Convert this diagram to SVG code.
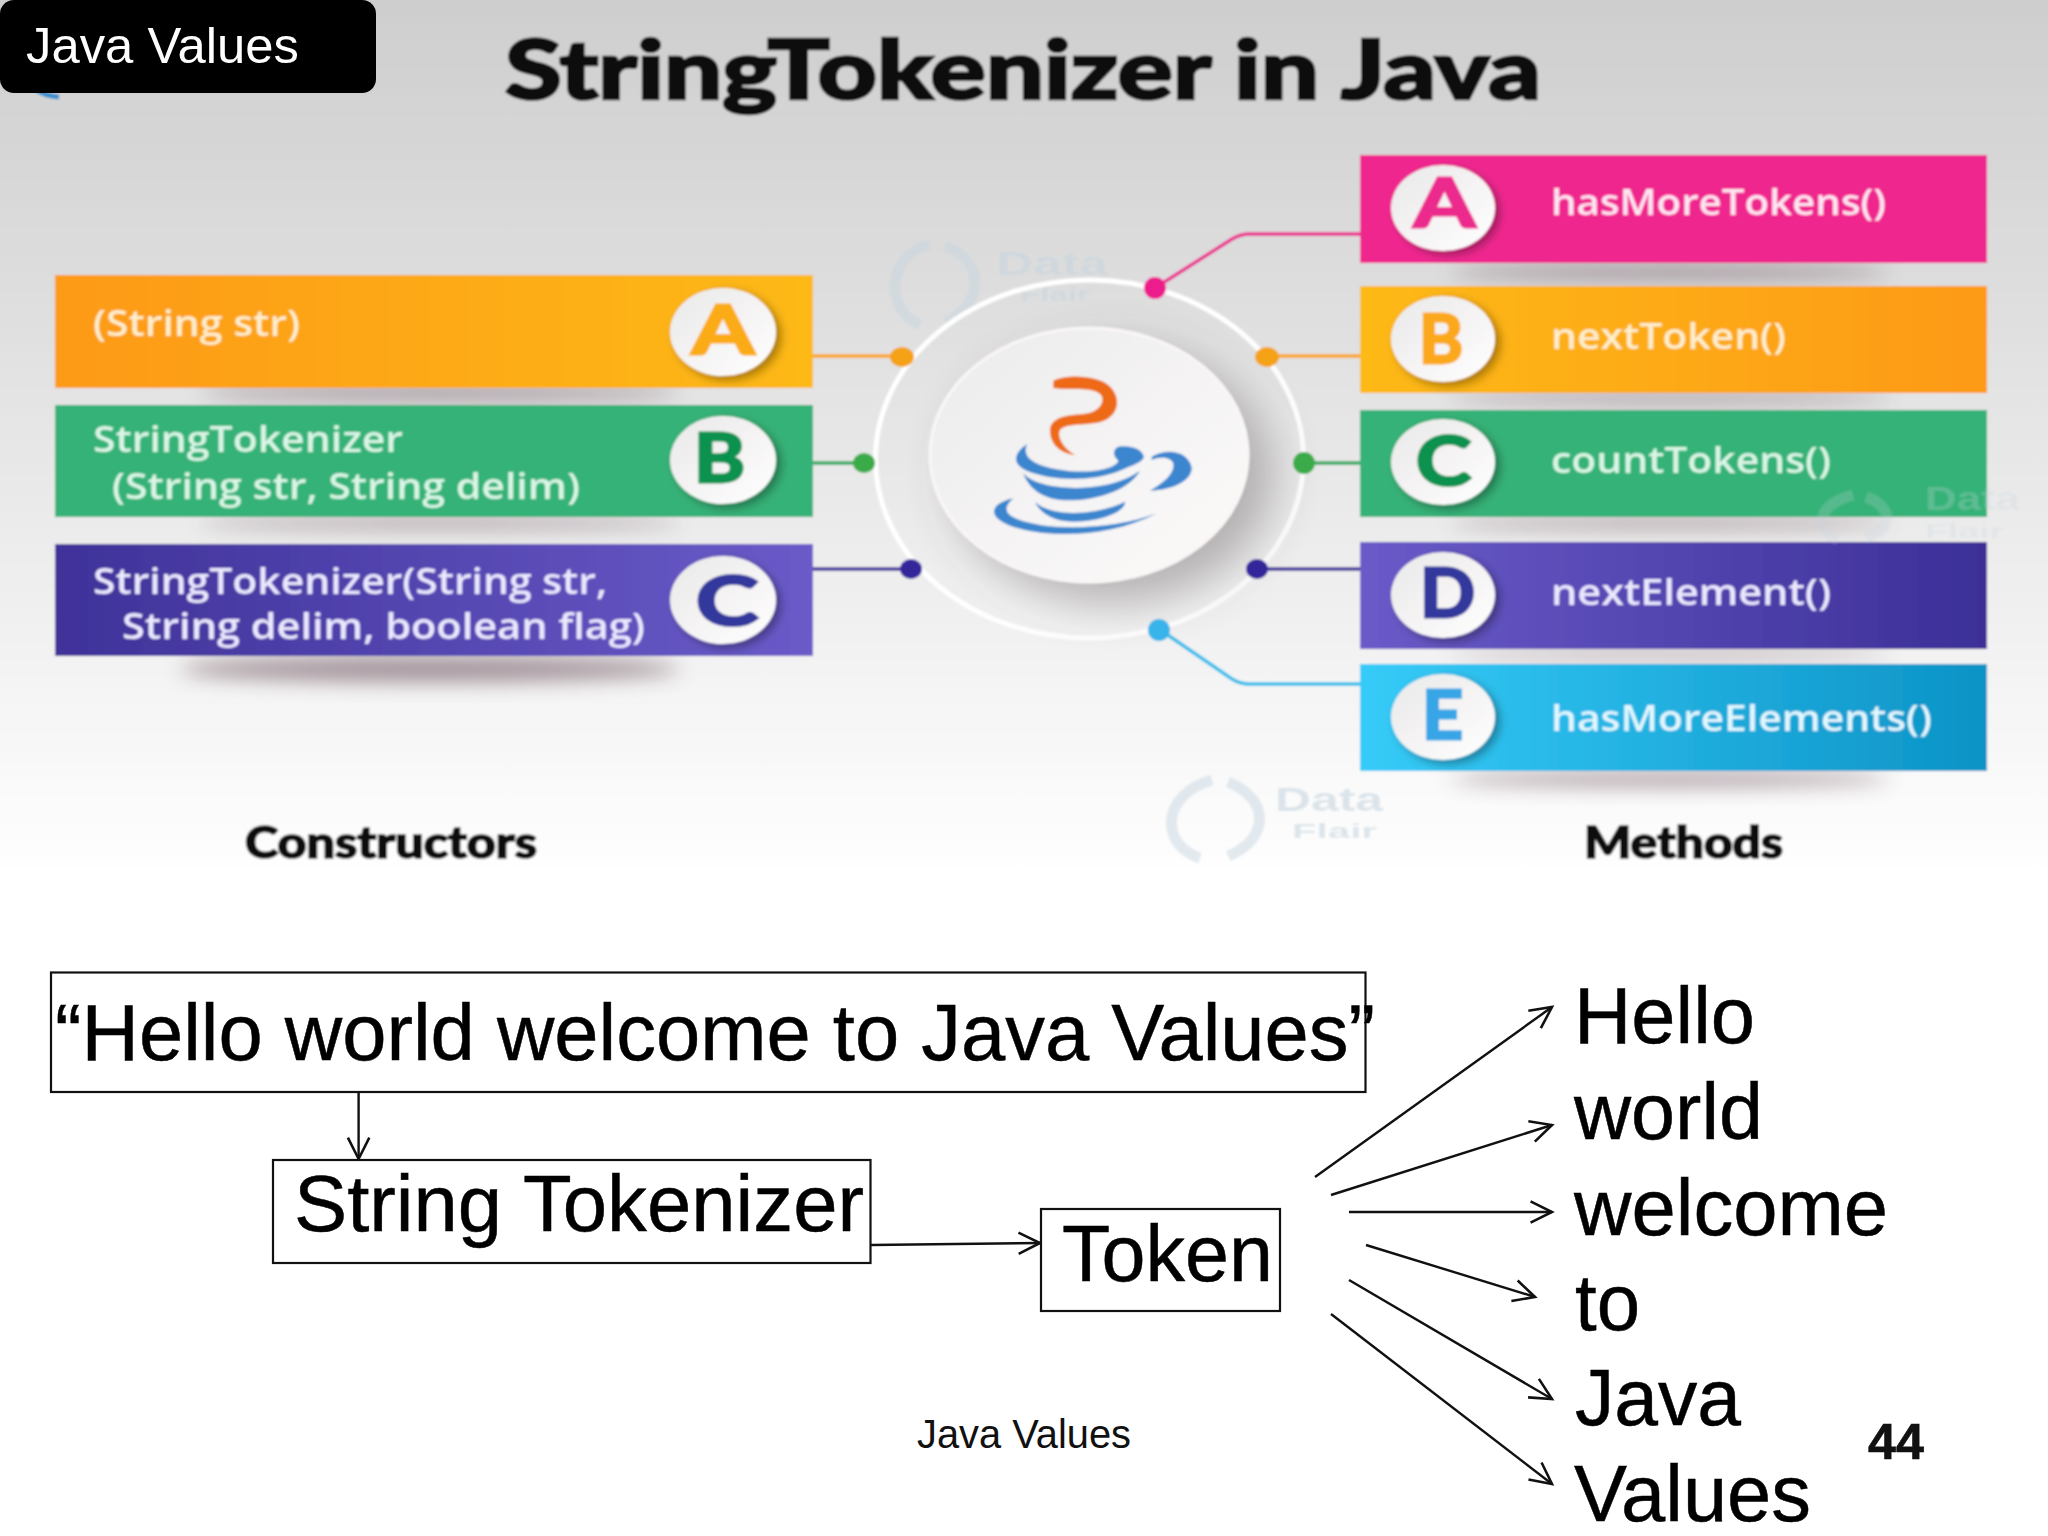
<svg xmlns="http://www.w3.org/2000/svg" width="2048" height="1536" viewBox="0 0 2048 1536">
<style>
text{font-family:"Liberation Sans",Arial,sans-serif}
.o{font-family:"Open Sans","Noto Sans",sans-serif;font-weight:600;font-size:36px}
.h{font-family:Lato,"Open Sans",sans-serif;font-weight:900;fill:#111;stroke:#111}
.lt{font-family:Lato,"Open Sans",sans-serif;font-weight:700;font-size:66px;fill:currentColor;stroke:currentColor;stroke-width:3}
.big{font-size:80px;fill:#000;stroke:#000;stroke-width:.5}
.box{fill:#fff;stroke:#111;stroke-width:2.2}
.arrow{fill:none;stroke:#111;stroke-width:2.4;marker-end:url(#open)}
.ring{fill:none;stroke:#fff}
.lnk{fill:none;stroke-width:3.500}
.badge{fill:url(#badge);filter:url(#ds)}
.shadow{filter:url(#b8);fill:#6e5560;opacity:.62}
.wm{fill:none;stroke:#c8d6e0;stroke-width:11;opacity:.5}
.wmt{font-weight:700;fill:#c8d6e0;opacity:.6}
</style>
<defs>
<linearGradient id="bg" x1="0" y1="0" x2="0" y2="1"><stop offset="0" stop-color="#cdcdcd"/><stop offset=".35" stop-color="#dedede"/><stop offset=".7" stop-color="#f0f0f0"/><stop offset="1" stop-color="#fff"/></linearGradient>
<linearGradient id="org"><stop offset="0" stop-color="#fd9a12"/><stop offset="1" stop-color="#fdb913"/></linearGradient>
<linearGradient id="orgR"><stop offset="0" stop-color="#fdb913"/><stop offset="1" stop-color="#fd9a12"/></linearGradient>
<linearGradient id="pur"><stop offset="0" stop-color="#3f3299"/><stop offset="1" stop-color="#6a5bc9"/></linearGradient>
<linearGradient id="purR"><stop offset="0" stop-color="#6a5bc9"/><stop offset="1" stop-color="#3c2f97"/></linearGradient>
<linearGradient id="cya"><stop offset="0" stop-color="#36cbf8"/><stop offset="1" stop-color="#0c93c6"/></linearGradient>
<linearGradient id="badge" x1="0" y1="0" x2="1" y2="1"><stop offset="0" stop-color="#e9e9e9"/><stop offset=".5" stop-color="#f5f3f3"/><stop offset="1" stop-color="#fff"/></linearGradient>
<linearGradient id="plate" x1="0" y1="0" x2="1" y2="1"><stop offset="0" stop-color="#ececec"/><stop offset="1" stop-color="#fdfafa"/></linearGradient>
<filter id="b8" x="-20%" y="-300%" width="140%" height="700%"><feGaussianBlur stdDeviation="10"/></filter>
<filter id="b1"><feGaussianBlur stdDeviation=".8"/></filter>
<filter id="ds" x="-30%" y="-30%" width="170%" height="170%"><feDropShadow dx="5" dy="4" stdDeviation="5" flood-color="#000" flood-opacity=".35"/></filter>
<filter id="pl" x="-30%" y="-30%" width="170%" height="170%"><feDropShadow dx="24" dy="20" stdDeviation="22" flood-color="#5a5055" flood-opacity=".38"/></filter>
<marker id="open" markerUnits="userSpaceOnUse" markerWidth="30" markerHeight="30" viewBox="-24 -13 28 26" refX="0" refY="0" orient="auto"><path d="M-20,-10 L0,0 L-20,10" fill="none" stroke="#111" stroke-width="2.400"/></marker>
</defs>
<rect width="2048" height="1536" fill="#fff"/>

<g id="infographic" filter="url(#b1)">
<rect x="-20" y="-20" width="2088" height="900" fill="url(#bg)"/>
<path d="M34 88Q44 96 59 97" fill="none" stroke="#3a8fd0" stroke-width="5"/>
<g id="watermarks">
<path class="wm" d="M930 244C885 257 885 310 920 325M945 246C985 260 985 305 945 322"/>
<text class="wmt" x="996" y="275" font-size="34" textLength="112" lengthAdjust="spacingAndGlyphs">Data</text>
<text class="wmt" x="1020" y="301" font-size="20" textLength="70" lengthAdjust="spacingAndGlyphs">Flair</text>
<path class="wm" d="M1212 780C1160 795 1160 845 1200 858M1228 782C1272 800 1268 840 1228 856"/>
<text class="wmt" x="1275" y="811" font-size="34" textLength="108" lengthAdjust="spacingAndGlyphs">Data</text>
<text class="wmt" x="1292" y="838" font-size="20" textLength="85" lengthAdjust="spacingAndGlyphs">Flair</text>
</g>
<text id="title" class="h" stroke-width="2.600" x="505" y="99" font-size="82" textLength="1036" lengthAdjust="spacingAndGlyphs">StringTokenizer in Java</text>

<g id="hub">
<ellipse class="ring" cx="1089.500" cy="459" rx="214" ry="179" stroke-width="5"/>
<ellipse cx="1089" cy="455" rx="159" ry="127" fill="url(#plate)" stroke="#faf6f6" stroke-width="3" filter="url(#pl)"/>
<g id="java-logo" transform="translate(840 260) scale(.3333)">
<path fill="#ee6a12" d="M640 362C680 343 780 343 815 385C850 430 825 475 780 487C730 497 680 490 660 510C650 530 670 565 705 585C670 582 630 560 630 510C632 472 680 465 730 462C780 458 800 420 780 402C750 378 680 392 640 385Z"/>
<g fill="#3a86cf">
<path d="M562 552C525 575 510 610 560 632C640 665 760 665 840 632C880 615 910 605 912 590C905 565 870 555 835 560C815 570 820 590 835 602C830 625 750 642 680 632C600 622 540 600 562 552Z"/>
<path d="M550 640C590 690 760 700 860 655C885 643 900 632 900 632C870 690 760 728 660 720C590 712 560 670 550 640Z"/>
<path d="M585 725C630 770 760 770 855 725C860 748 800 785 700 785C640 785 600 760 585 725Z"/>
<path d="M520 715C450 730 440 770 510 797C600 832 800 840 950 760C850 800 700 810 600 795C520 780 470 760 520 715Z"/>
<path d="M935 590C980 565 1040 570 1055 620C1060 660 1000 690 930 692C970 670 1005 640 1000 610C990 590 960 590 935 600Z"/>
</g>
</g>
</g>

<g id="connectors-top">
<path class="lnk" stroke="#ea2e8f" d="M1155 288L1232 239Q1240 234 1250 234H1360"/>
<path class="lnk" stroke="#fba51a" d="M1267 356H1360M813 356H902"/>
<path class="lnk" stroke="#35a860" d="M1304 463H1360M813 463H864"/>
<path class="lnk" stroke="#3f3299" d="M1257 569H1360M813 569H911"/>
<path class="lnk" stroke="#2fbdea" d="M1159 629L1232 679Q1240 684 1250 684H1360"/>
<ellipse cx="1155" cy="288" rx="11" ry="11" fill="#ec1f8d"/>
<ellipse cx="1267" cy="357" rx="12" ry="10" fill="#f5a214"/>
<ellipse cx="902" cy="357" rx="12" ry="10" fill="#f5a214"/>
<ellipse cx="1304" cy="463" rx="11" ry="11" fill="#3bab4a"/>
<ellipse cx="864" cy="463" rx="11" ry="10" fill="#3bab4a"/>
<ellipse cx="1257" cy="569" rx="11" ry="10" fill="#32279a"/>
<ellipse cx="911" cy="569" rx="11" ry="10" fill="#32279a"/>
<ellipse cx="1159" cy="630" rx="11" ry="11" fill="#38b4ea"/>
</g>

<g id="ctor-a">
<ellipse class="shadow" cx="440" cy="393" rx="240" ry="7"/>
<rect x="55" y="275" width="758" height="113" fill="url(#org)"/>
<text class="o" x="93" y="336" fill="#ffeecb" textLength="207" lengthAdjust="spacingAndGlyphs">(String str)</text>
<ellipse class="badge" cx="723" cy="332" rx="53" ry="44"/>
<text class="lt" x="692" y="354" color="#fbab18" textLength="62" lengthAdjust="spacingAndGlyphs">A</text>
</g>
<g id="ctor-b">
<ellipse class="shadow" cx="440" cy="523" rx="240" ry="5"/>
<rect x="55" y="405" width="758" height="112" fill="#36b277"/>
<text class="o" x="93" y="452" fill="#d9f6e6" textLength="310" lengthAdjust="spacingAndGlyphs">StringTokenizer</text>
<text class="o" x="112" y="499" fill="#d9f6e6" textLength="468" lengthAdjust="spacingAndGlyphs">(String str, String delim)</text>
<ellipse class="badge" cx="723" cy="460" rx="53" ry="44"/>
<text class="lt" x="694" y="482" color="#07914f" textLength="51" lengthAdjust="spacingAndGlyphs">B</text>
</g>
<g id="ctor-c">
<ellipse class="shadow" cx="430" cy="669" rx="250" ry="13"/>
<rect x="55" y="544" width="758" height="112" fill="url(#pur)"/>
<text class="o" x="93" y="594" fill="#ebe8ff" textLength="514" lengthAdjust="spacingAndGlyphs">StringTokenizer(String str,</text>
<text class="o" x="122" y="639" fill="#ebe8ff" textLength="523" lengthAdjust="spacingAndGlyphs">String delim, boolean flag)</text>
<ellipse class="badge" cx="723" cy="600" rx="53" ry="44"/>
<text class="lt" x="696" y="625" color="#33389c" textLength="62" lengthAdjust="spacingAndGlyphs">C</text>
</g>

<g id="method-a">
<ellipse class="shadow" cx="1670" cy="272" rx="220" ry="7"/>
<rect x="1360" y="155" width="627" height="108" fill="#f0288f"/>
<ellipse class="badge" cx="1443" cy="208" rx="52" ry="43"/>
<text class="lt" x="1414" y="227" color="#ec2a8d" textLength="61" lengthAdjust="spacingAndGlyphs">A</text>
<text class="o" x="1551" y="215" fill="#ffe6f3" textLength="335" lengthAdjust="spacingAndGlyphs">hasMoreTokens()</text>
</g>
<g id="method-b">
<ellipse class="shadow" cx="1670" cy="398" rx="220" ry="5"/>
<rect x="1360" y="286" width="627" height="107" fill="url(#orgR)"/>
<ellipse class="badge" cx="1443" cy="339" rx="52" ry="43"/>
<text class="lt" x="1419" y="363" color="#fba81a" textLength="44" lengthAdjust="spacingAndGlyphs">B</text>
<text class="o" x="1551" y="349" fill="#ffeecb" textLength="235" lengthAdjust="spacingAndGlyphs">nextToken()</text>
</g>
<g id="method-c">
<ellipse class="shadow" cx="1670" cy="523" rx="220" ry="5"/>
<rect x="1360" y="410" width="627" height="107" fill="#36b277"/>
<ellipse class="badge" cx="1443" cy="462" rx="52" ry="43"/>
<text class="lt" x="1416" y="485" color="#07914f" textLength="55" lengthAdjust="spacingAndGlyphs">C</text>
<text class="o" x="1551" y="473" fill="#d9f6e6" textLength="280" lengthAdjust="spacingAndGlyphs">countTokens()</text>
</g>
<g id="method-d">
<ellipse class="shadow" cx="1670" cy="654" rx="220" ry="4"/>
<rect x="1360" y="542" width="627" height="107" fill="url(#purR)"/>
<ellipse class="badge" cx="1443" cy="595" rx="52" ry="43"/>
<text class="lt" x="1420" y="617" color="#33389c" textLength="55" lengthAdjust="spacingAndGlyphs">D</text>
<text class="o" x="1551" y="605" fill="#ebe8ff" textLength="280" lengthAdjust="spacingAndGlyphs">nextElement()</text>
</g>
<g id="method-e">
<ellipse class="shadow" cx="1670" cy="779" rx="220" ry="7"/>
<rect x="1360" y="664" width="627" height="107" fill="url(#cya)"/>
<ellipse class="badge" cx="1443" cy="717" rx="52" ry="43"/>
<text class="lt" x="1422" y="739" color="#38a6e6" textLength="41" lengthAdjust="spacingAndGlyphs">E</text>
<text class="o" x="1551" y="731" fill="#e2f8ff" textLength="381" lengthAdjust="spacingAndGlyphs">hasMoreElements()</text>
</g>
<g id="watermark-right" opacity=".45">
<path class="wm" d="M1853 495C1815 505 1815 530 1838 540M1866 497C1895 507 1892 530 1866 538"/>
<text class="wmt" x="1925" y="510" font-size="34" textLength="95" lengthAdjust="spacingAndGlyphs">Data</text>
<text class="wmt" x="1925" y="538" font-size="20" textLength="79" lengthAdjust="spacingAndGlyphs">Flair</text>
</g>
<text id="label-constructors" class="h" stroke-width="1.600" x="245" y="858" font-size="44" textLength="292" lengthAdjust="spacingAndGlyphs">Constructors</text>
<text id="label-methods" class="h" stroke-width="1.600" x="1584" y="858" font-size="44" textLength="199" lengthAdjust="spacingAndGlyphs">Methods</text>
</g>

<g id="header">
<rect x="0" y="0" width="376" height="93" rx="14" fill="#000"/>
<text x="26" y="63" font-size="50" fill="#fff" textLength="273" lengthAdjust="spacingAndGlyphs">Java Values</text>
</g>

<g id="connectors">
<path class="arrow" d="M358.600 1092V1159"/>
<path class="arrow" d="M871 1245L1040 1243"/>
<path class="arrow" d="M1315 1177L1552 1007"/>
<path class="arrow" d="M1331 1195L1552 1125"/>
<path class="arrow" d="M1349 1212H1552"/>
<path class="arrow" d="M1366 1245L1535 1297"/>
<path class="arrow" d="M1349 1280L1552 1399"/>
<path class="arrow" d="M1331 1314L1552 1484"/>
</g>

<g id="sentence"><rect class="box" x="51" y="972.500" width="1314.500" height="119.500"/>
<text class="big" x="55" y="1060" textLength="1320" lengthAdjust="spacingAndGlyphs">“Hello world welcome to Java Values”</text></g>
<g id="string-tokenizer"><rect class="box" x="273" y="1160" width="597.500" height="103"/>
<text class="big" x="294" y="1231" textLength="570" lengthAdjust="spacingAndGlyphs">String Tokenizer</text></g>
<g id="token"><rect class="box" x="1041" y="1209" width="239" height="102"/>
<text class="big" x="1062" y="1281" textLength="211" lengthAdjust="spacingAndGlyphs">Token</text></g>

<g id="token-hello"><text class="big" x="1574" y="1043" textLength="181" lengthAdjust="spacingAndGlyphs">Hello</text></g>
<g id="token-world"><text class="big" x="1574" y="1139" textLength="189" lengthAdjust="spacingAndGlyphs">world</text></g>
<g id="token-welcome"><text class="big" x="1574" y="1235" textLength="314" lengthAdjust="spacingAndGlyphs">welcome</text></g>
<g id="token-to"><text class="big" x="1575" y="1330" textLength="65" lengthAdjust="spacingAndGlyphs">to</text></g>
<g id="token-java"><text class="big" x="1575" y="1425" textLength="166" lengthAdjust="spacingAndGlyphs">Java</text></g>
<g id="token-values"><text class="big" x="1574" y="1521" textLength="237" lengthAdjust="spacingAndGlyphs">Values</text></g>

<g id="footer">
<text x="917" y="1448" font-size="41" fill="#111" textLength="214" lengthAdjust="spacingAndGlyphs">Java Values</text>
<text x="1868" y="1459" font-size="50" font-weight="700" fill="#111" stroke="#111" stroke-width=".6" textLength="56" lengthAdjust="spacingAndGlyphs">44</text>
</g>
</svg>
